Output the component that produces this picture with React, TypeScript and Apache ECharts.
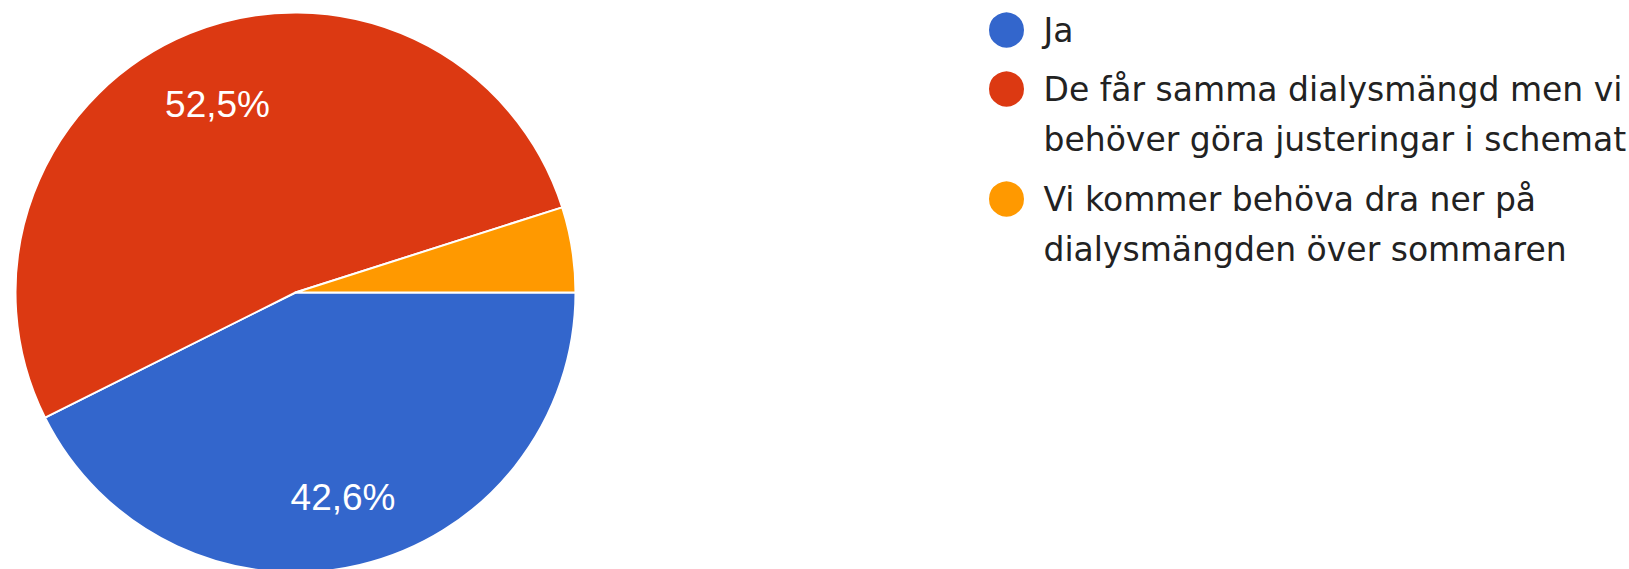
import React, { useEffect, useRef } from "react";
import * as echarts from "echarts";

const categories = [
  "Ja",
  "De får samma dialysmängd men vi behöver göra justeringar i schemat",
  "Vi kommer behöva dra ner på dialysmängden över sommaren",
];
const legendLines = [
  ["Ja"],
  ["De får samma dialysmängd men vi", "behöver göra justeringar i schemat"],
  ["Vi kommer behöva dra ner på", "dialysmängden över sommaren"],
];
const responses = [26, 32, 3];
const sliceColors = ["#3366CC", "#DC3912", "#FF9900"];
const showSliceLabel = [true, true, false];

const FONT = "'Liberation Sans', Arial, sans-serif";
const LEGEND_FONT = "'DejaVu Sans', sans-serif";
const CENTER = [295.5, 292.5];
const RADIUS = 280;
const legendTops = [5, 14, 124];

export default function App() {
  const ref = useRef<HTMLDivElement>(null);
  useEffect(() => {
    if (!ref.current) return;
    const chart = echarts.init(ref.current, undefined, { renderer: "svg" });
    const total = responses.reduce((a, b) => a + b, 0);
    const fmtPct = (v: number) => (v / total * 100).toFixed(1).replace(".", ",") + "%";
    const data = categories.map((name, i) => ({
      name,
      value: responses[i],
      itemStyle: { color: sliceColors[i] },
    }));
    chart.setOption({
      animation: false,
      backgroundColor: "#ffffff",
      legend: categories.map((name, i) => ({
        data: [name],
        orient: "vertical",
        left: 987,
        top: legendTops[i],
        padding: 0,
        itemWidth: 64,
        itemHeight: 37,
        icon: "circle",
        selectedMode: false,
        formatter: () => (legendLines[i].length > 1 ? "\n" : "") + legendLines[i].join("\n"),
        textStyle: { fontSize: 33, lineHeight: 50, color: "#222222", fontFamily: LEGEND_FONT },
      })),
      series: [
        {
          type: "pie",
          center: CENTER,
          radius: [0, RADIUS],
          startAngle: 0,
          clockwise: true,
          silent: true,
          label: { show: false },
          labelLine: { show: false },
          emphasis: { disabled: true },
          itemStyle: { borderColor: "#ffffff", borderWidth: 2 },
          data,
        },
        {
          type: "pie",
          center: CENTER,
          radius: [128, RADIUS],
          startAngle: 0,
          clockwise: true,
          silent: true,
          emphasis: { disabled: true },
          itemStyle: { color: "transparent", borderWidth: 0 },
          labelLine: { show: false },
          labelLayout: { dy: 4 },
          label: {
            show: true,
            position: "inside",
            color: "#ffffff",
            fontSize: 37,
            fontFamily: FONT,
            formatter: (p: any) => fmtPct(p.value),
          },
          data: categories.map((name, i) => ({
            name,
            value: responses[i],
            itemStyle: { color: "transparent" },
            label: { show: showSliceLabel[i] },
          })),
        },
      ],
    });
    return () => chart.dispose();
  }, []);
  return (
    <div
      ref={ref}
      style={{ position: "fixed", left: 0, top: 0, width: 1629, height: 569, background: "#fff" }}
    />
  );
}
